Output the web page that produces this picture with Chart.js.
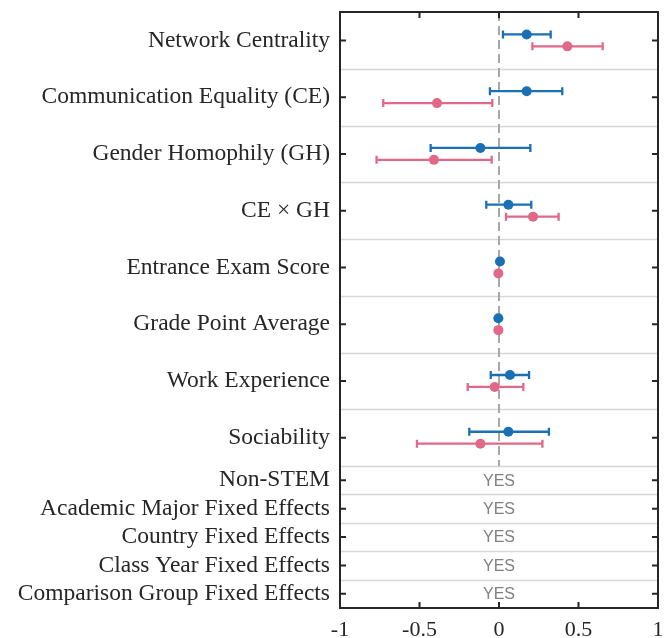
<!DOCTYPE html>
<html>
<head>
<meta charset="utf-8">
<script src="https://cdn.jsdelivr.net/npm/chart.js@4/dist/chart.umd.min.js"></script>
<style>
  html, body { margin: 0; padding: 0; background: #fff; }
  canvas { display: block; }
</style>
</head>
<body>
<canvas id="coefChart" width="671" height="638"></canvas>
<script>
// rows with estimates
const estLabels = ['Network Centrality', 'Communication Equality (CE)', 'Gender Homophily (GH)',
  'CE \u00d7 GH', 'Entrance Exam Score', 'Grade Point Average', 'Work Experience', 'Sociability'];
// rows that only say YES
const fixedLabels = ['Non-STEM', 'Academic Major Fixed Effects', 'Country Fixed Effects',
  'Class Year Fixed Effects', 'Comparison Group Fixed Effects'];
const fixedText = ['YES', 'YES', 'YES', 'YES', 'YES'];

const blueEst = [0.174, 0.174, -0.117, 0.059, 0.006, -0.004, 0.069, 0.059];
const blueLo  = [0.025, -0.057, -0.430, -0.080, 0.006, -0.004, -0.052, -0.187];
const blueHi  = [0.325, 0.398, 0.197, 0.203, 0.006, -0.004, 0.189, 0.314];

const pinkEst = [0.430, -0.390, -0.409, 0.214, -0.004, -0.004, -0.027, -0.117];
const pinkLo  = [0.210, -0.728, -0.770, 0.044, -0.004, -0.004, -0.197, -0.516];
const pinkHi  = [0.652, -0.042, -0.046, 0.375, -0.004, -0.004, 0.153, 0.273];

const xTicks = [-1, -0.5, 0, 0.5, 1];

const BLUE = '#1a6fb5';
const PINK = '#e0698a';

// big rows take 2 units, fixed-effect rows 1 unit
const rowCenters = estLabels.map((_, i) => 2 * i + 1)
  .concat(fixedLabels.map((_, i) => 16.5 + i));
const allLabels = estLabels.concat(fixedLabels);
const separators = [2, 4, 6, 8, 10, 12, 14, 16, 17, 18, 19, 20];
const yMax = 21;
const off = 0.21;

const bluePts = blueEst.map((v, i) => ({ x: v, y: 2 * i + 1 - off, lo: blueLo[i], hi: blueHi[i] }));
const pinkPts = pinkEst.map((v, i) => ({ x: v, y: 2 * i + 1 + off, lo: pinkLo[i], hi: pinkHi[i] }));

const coefPlugin = {
  id: 'coefPlugin',
  beforeDatasetsDraw(chart) {
    const { ctx, chartArea: a, scales: { x, y } } = chart;
    ctx.save();
    // row separators
    ctx.strokeStyle = '#d6d6d6';
    ctx.lineWidth = 1.5;
    separators.forEach(s => {
      const py = Math.round(y.getPixelForValue(s)) + 0.5;
      ctx.beginPath(); ctx.moveTo(a.left, py); ctx.lineTo(a.right, py); ctx.stroke();
    });
    // zero line
    ctx.strokeStyle = '#a8a8a8';
    ctx.lineWidth = 2;
    ctx.setLineDash([9, 5]);
    const zx = x.getPixelForValue(0);
    ctx.beginPath(); ctx.moveTo(zx, a.top); ctx.lineTo(zx, y.getPixelForValue(16)); ctx.stroke();
    ctx.setLineDash([]);
    // YES text
    ctx.fillStyle = '#808080';
    ctx.font = '16px "Liberation Sans", Arial, sans-serif';
    ctx.textAlign = 'center';
    ctx.textBaseline = 'middle';
    fixedText.forEach((t, i) => {
      ctx.fillText(t, zx, y.getPixelForValue(16.5 + i) + 1);
    });
    // error bars
    chart.data.datasets.forEach(ds => {
      ctx.strokeStyle = ds.borderColor;
      ctx.lineWidth = 2.3;
      ds.data.forEach(p => {
        if (p.hi - p.lo < 0.01) return;
        const py = y.getPixelForValue(p.y);
        const x0 = x.getPixelForValue(p.lo), x1 = x.getPixelForValue(p.hi);
        ctx.beginPath();
        ctx.moveTo(x0, py); ctx.lineTo(x1, py);
        ctx.moveTo(x0, py - 4); ctx.lineTo(x0, py + 4);
        ctx.moveTo(x1, py - 4); ctx.lineTo(x1, py + 4);
        ctx.stroke();
      });
    });
    ctx.restore();
  },
  afterDraw(chart) {
    const { ctx, chartArea: a, scales: { x, y } } = chart;
    ctx.save();
    ctx.strokeStyle = '#262626';
    ctx.lineWidth = 2;
    // inward ticks
    ctx.beginPath();
    x.ticks.forEach(t => {
      const px = x.getPixelForValue(t.value);
      ctx.moveTo(px, a.top); ctx.lineTo(px, a.top + 6);
      ctx.moveTo(px, a.bottom); ctx.lineTo(px, a.bottom - 6);
    });
    y.ticks.forEach(t => {
      const py = y.getPixelForValue(t.value);
      ctx.moveTo(a.left, py); ctx.lineTo(a.left + 6, py);
      ctx.moveTo(a.right, py); ctx.lineTo(a.right - 6, py);
    });
    ctx.stroke();
    ctx.strokeRect(a.left, a.top, a.right - a.left, a.bottom - a.top);
    ctx.restore();
  }
};

new Chart(document.getElementById('coefChart'), {
  type: 'scatter',
  data: {
    datasets: [
      { label: 'blue', data: bluePts, backgroundColor: BLUE, borderColor: BLUE, pointRadius: 5, pointHoverRadius: 5, borderWidth: 0 },
      { label: 'pink', data: pinkPts, backgroundColor: PINK, borderColor: PINK, pointRadius: 5, pointHoverRadius: 5, borderWidth: 0 }
    ]
  },
  options: {
    responsive: false,
    animation: false,
    layout: { padding: { top: 0, right: 13, left: 0, bottom: 0 } },
    plugins: { legend: { display: false }, tooltip: { enabled: false } },
    scales: {
      x: {
        type: 'linear', min: -1, max: 1,
        afterBuildTicks: s => { s.ticks = xTicks.map(v => ({ value: v })); },
        afterFit: s => { s.height = 30; },
        grid: { display: false },
        border: { display: false },
        ticks: {
          color: '#262626', padding: 1,
          font: { family: '"Liberation Serif", serif', size: 22 },
          callback: v => String(v)
        }
      },
      y: {
        type: 'linear', min: 0, max: yMax, reverse: true,
        afterBuildTicks: s => { s.ticks = rowCenters.map(v => ({ value: v })); },
        afterFit: s => { s.width = 340; s.paddingTop = 12; s.paddingBottom = 0; },
        grid: { display: false },
        border: { display: false },
        ticks: {
          color: '#262626', padding: 2, autoSkip: false,
          font: { family: '"Liberation Serif", serif', size: 23.5 },
          callback: v => allLabels[rowCenters.indexOf(v)]
        }
      }
    }
  },
  plugins: [coefPlugin]
});
</script>
</body>
</html>
